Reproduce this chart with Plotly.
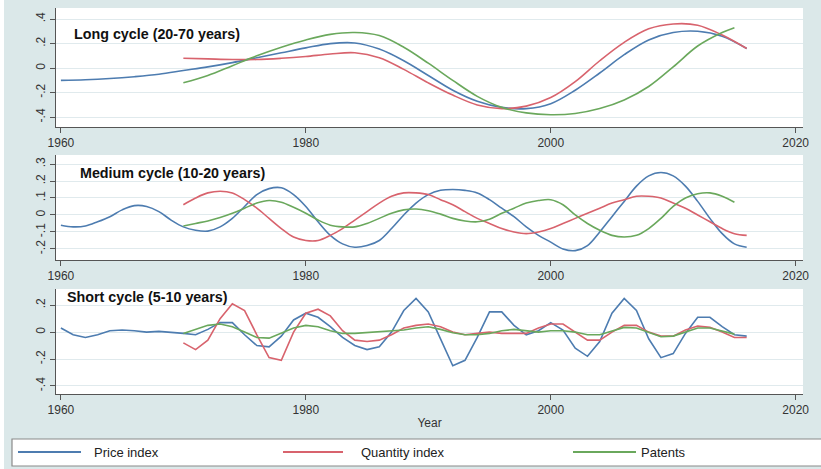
import plotly.graph_objects as go

# ---------------- data ----------------
# Long cycle (2-year steps, smooth)
long_price_years = list(range(1960, 2017, 2))
long_price = [-0.10, -0.095, -0.085, -0.07, -0.05, -0.02, 0.01, 0.045, 0.085, 0.125,
              0.165, 0.20, 0.205, 0.155, 0.06, -0.06, -0.18, -0.27, -0.32, -0.33,
              -0.29, -0.18, -0.04, 0.11, 0.23, 0.29, 0.30, 0.26, 0.16]
long_qty_years = list(range(1970, 2017, 2))
long_qty = [0.08, 0.075, 0.07, 0.07, 0.08, 0.095, 0.115, 0.125, 0.085, -0.01,
            -0.12, -0.22, -0.30, -0.33, -0.31, -0.24, -0.11, 0.06, 0.21, 0.32,
            0.36, 0.35, 0.27, 0.16]
long_pat_years = list(range(1970, 2015, 2)) + [2015]
long_pat = [-0.12, -0.06, 0.02, 0.10, 0.17, 0.23, 0.275, 0.29, 0.265, 0.17,
            0.04, -0.10, -0.23, -0.32, -0.365, -0.38, -0.37, -0.33, -0.26, -0.15,
            0.01, 0.18, 0.29, 0.33]

# Medium cycle (annual)
med_price_years = list(range(1960, 2017))
med_price = [-0.06, -0.07, -0.065, -0.04, -0.01, 0.03, 0.055, 0.05, 0.02, -0.03,
             -0.07, -0.09, -0.095, -0.07, -0.02, 0.05, 0.12, 0.155, 0.16, 0.12,
             0.05, -0.04, -0.12, -0.17, -0.19, -0.18, -0.15, -0.08, 0.0, 0.07,
             0.12, 0.145, 0.15, 0.145, 0.13, 0.09, 0.04, -0.01, -0.07, -0.12,
             -0.16, -0.20, -0.21, -0.18, -0.10, -0.01, 0.08, 0.17, 0.23, 0.25,
             0.23, 0.17, 0.08, -0.02, -0.11, -0.17, -0.19]
med_qty_years = list(range(1970, 2017))
med_qty = [0.06, 0.10, 0.13, 0.14, 0.13, 0.09, 0.04, -0.02, -0.08, -0.13,
           -0.15, -0.15, -0.12, -0.08, -0.03, 0.02, 0.07, 0.11, 0.13, 0.13,
           0.12, 0.09, 0.06, 0.02, -0.02, -0.05, -0.08, -0.10, -0.11, -0.10,
           -0.08, -0.05, -0.02, 0.01, 0.04, 0.07, 0.09, 0.11, 0.11, 0.10,
           0.07, 0.04, 0.0, -0.04, -0.08, -0.11, -0.12]
med_pat_years = list(range(1970, 2016))
med_pat = [-0.065, -0.05, -0.035, -0.015, 0.01, 0.04, 0.07, 0.085, 0.075, 0.045,
           0.01, -0.03, -0.06, -0.07, -0.07, -0.05, -0.02, 0.01, 0.03, 0.035,
           0.025, 0.005, -0.02, -0.035, -0.04, -0.025, 0.01, 0.04, 0.07, 0.085,
           0.09, 0.06, 0.0, -0.05, -0.09, -0.12, -0.13, -0.12, -0.08, -0.02,
           0.05, 0.10, 0.125, 0.13, 0.11, 0.075]

# Short cycle (annual)
short_price_years = list(range(1960, 2017))
short_price = [0.03, -0.02, -0.04, -0.02, 0.01, 0.015, 0.01, 0.0, 0.005, 0.0,
               -0.01, -0.02, 0.02, 0.07, 0.07, -0.02, -0.10, -0.11, -0.03, 0.09,
               0.14, 0.11, 0.04, -0.04, -0.10, -0.13, -0.11, 0.0, 0.16, 0.25,
               0.15, -0.05, -0.25, -0.21, -0.04, 0.15, 0.15, 0.05, -0.02, 0.01,
               0.07, 0.015, -0.12, -0.18, -0.07, 0.14, 0.25, 0.16, -0.05, -0.19,
               -0.16, -0.01, 0.11, 0.11, 0.04, -0.02, -0.03]
short_qty_years = list(range(1970, 2017))
short_qty = [-0.08, -0.13, -0.06, 0.10, 0.21, 0.16, -0.02, -0.19, -0.21, 0.0,
             0.14, 0.17, 0.12, 0.01, -0.06, -0.07, -0.06, -0.02, 0.03, 0.05,
             0.06, 0.04, 0.0, -0.02, -0.01, 0.0, -0.01, -0.01, -0.01, 0.03,
             0.06, 0.06, 0.0, -0.06, -0.06, 0.0, 0.05, 0.05, 0.0, -0.03,
             -0.03, 0.015, 0.045, 0.035, 0.0, -0.04, -0.04]
short_pat_years = list(range(1970, 2016))
short_pat = [-0.01, 0.02, 0.05, 0.06, 0.04, 0.0, -0.04, -0.045, -0.01, 0.03,
             0.05, 0.04, 0.01, -0.01, -0.01, -0.005, 0.0, 0.005, 0.015, 0.03,
             0.04, 0.02, -0.005, -0.02, -0.02, -0.01, 0.01, 0.02, 0.01, 0.0,
             0.01, 0.01, 0.0, -0.02, -0.02, 0.01, 0.035, 0.03, 0.0, -0.035,
             -0.03, 0.0, 0.03, 0.03, 0.01, -0.015]

series_names = ["Price index", "Quantity index", "Patents"]
panel_titles = ["Long cycle (20-70 years)", "Medium cycle (10-20 years)", "Short cycle (5-10 years)"]
x_ticks = [1960, 1980, 2000, 2020]
y_ticks_long = [-0.4, -0.2, 0, 0.2, 0.4]
y_labels_long = ["-.4", "-.2", "0", ".2", ".4"]
y_ticks_med = [-0.2, -0.1, 0, 0.1, 0.2, 0.3]
y_labels_med = ["-.2", "-.1", "0", ".1", ".2", ".3"]
y_ticks_short = [-0.4, -0.2, 0, 0.2]
y_labels_short = ["-.4", "-.2", "0", ".2"]
x_title = "Year"

# ---------------- style ----------------
W, H = 821, 469
BG = "#dbe8e9"
COLORS = ["#4d7cb0", "#d8636d", "#6aa85c"]
FONT = "Liberation Sans, Arial, sans-serif"
TXT = "#333333"


def px(x):
    return x / W


def py(y):
    return 1 - y / H


fig = go.Figure()

panels = [
    ([(long_price_years, long_price), (long_qty_years, long_qty), (long_pat_years, long_pat)], "spline"),
    ([(med_price_years, med_price), (med_qty_years, med_qty), (med_pat_years, med_pat)], "spline"),
    ([(short_price_years, short_price), (short_qty_years, short_qty), (short_pat_years, short_pat)], "linear"),
]

for i, (series, shape) in enumerate(panels):
    ax = "" if i == 0 else str(i + 1)
    for j, (xs, ys) in enumerate(series):
        fig.add_trace(go.Scatter(
            x=xs, y=ys, mode="lines", name=series_names[j], showlegend=False,
            line=dict(color=COLORS[j], width=1.6, shape=shape, smoothing=1.0 if shape == "spline" else None),
            xaxis="x" + ax, yaxis="y" + ax,
        ))

# pixel boxes (top, bottom) and ranges
boxes = [(8, 127), (155, 260), (289, 394)]
yranges = [[-0.48, 0.49], [-0.265, 0.353], [-0.46, 0.32]]
yticks = [(y_ticks_long, y_labels_long), (y_ticks_med, y_labels_med), (y_ticks_short, y_labels_short)]
left_px, right_px = 56, 803

layout = dict(
    width=W, height=H, autosize=False,
    margin=dict(l=0, r=0, t=0, b=0, autoexpand=False),
    paper_bgcolor=BG, plot_bgcolor="white",
    showlegend=False,
)

for i in range(3):
    ax = "" if i == 0 else str(i + 1)
    top, bot = boxes[i]
    layout["xaxis" + ax] = dict(
        domain=[px(left_px), px(right_px)], anchor="y" + ax, automargin=False,
        range=[1959.6, 2020.6], tickvals=x_ticks, ticktext=[str(v) for v in x_ticks],
        ticks="outside", ticklen=5, tickcolor="#555", showline=True, linecolor="#555",
        linewidth=1, showgrid=False, zeroline=False,
        tickfont=dict(family=FONT, size=12, color=TXT),
        title=dict(text=x_title, font=dict(family=FONT, size=12, color=TXT), standoff=2) if i == 2 else None,
    )
    layout["yaxis" + ax] = dict(
        domain=[py(bot), py(top)], anchor="x" + ax, automargin=False,
        range=yranges[i], tickvals=yticks[i][0], ticktext=yticks[i][1],
        ticks="outside", ticklen=5, tickcolor="#555", showline=True, linecolor="#555",
        linewidth=1, showgrid=True, gridcolor="#e0eaed", gridwidth=1, zeroline=False,
        tickangle=-90, tickfont=dict(family=FONT, size=12, color=TXT),
    )

fig.update_layout(**layout)

# panel titles
title_pos = [(72, 34), (78, 173), (65, 297)]
for (x, y), t in zip(title_pos, panel_titles):
    fig.add_annotation(xref="paper", yref="paper", x=px(x), y=py(y), text="<b>" + t + "</b>",
                       showarrow=False, xanchor="left", yanchor="middle",
                       font=dict(family=FONT, size=14.3, color="#111111"))

# legend box (drawn manually)
fig.add_shape(type="rect", xref="paper", yref="paper", x0=px(12), x1=px(823), y0=py(466), y1=py(439),
              fillcolor="white", line=dict(color="#8a8a8a", width=1.2), layer="above")
leg_items = [(18, 81, 92), (283, 343, 359), (573, 636, 639)]
for (lx0, lx1, tx), name, col in zip(leg_items, series_names, COLORS):
    fig.add_shape(type="line", xref="paper", yref="paper", x0=px(lx0), x1=px(lx1), y0=py(452), y1=py(452),
                  line=dict(color=col, width=2), layer="above")
    fig.add_annotation(xref="paper", yref="paper", x=px(tx), y=py(452), text=name, showarrow=False,
                       xanchor="left", yanchor="middle", font=dict(family=FONT, size=13, color="#222"))

# thin white strip at left edge
fig.add_shape(type="rect", xref="paper", yref="paper", x0=0, x1=px(4), y0=0, y1=1,
              fillcolor="white", line=dict(width=0), layer="below")

fig.write_html("out.html")
